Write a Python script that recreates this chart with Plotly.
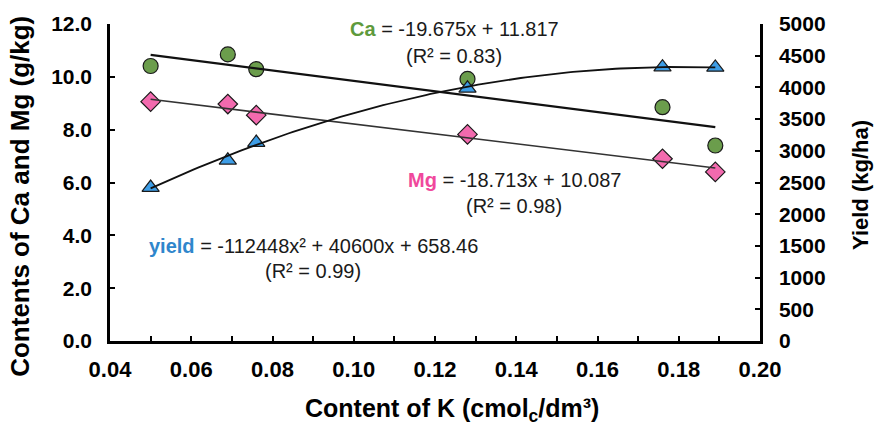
import numpy as np
import plotly.graph_objects as go

# ---- data ----
k_content = [0.050, 0.069, 0.076, 0.128, 0.176, 0.189]
ca_values = [10.41, 10.85, 10.29, 9.92, 8.85, 7.40]
mg_values = [9.06, 8.97, 8.55, 7.82, 6.90, 6.40]
yield_values = [2420, 2850, 3130, 3985, 4320, 4315]

# trendline coefficients as printed on the chart (highest power first)
ca_fit = [-19.675, 11.817]
mg_fit = [-18.713, 10.087]
yield_fit = [-112448, 40600, 658.46]

x_ticks = [0.04, 0.06, 0.08, 0.10, 0.12, 0.14, 0.16, 0.18, 0.20]
y_ticks = [0, 2, 4, 6, 8, 10, 12]
y2_ticks = list(range(0, 5001, 500))

GREEN = "#6b9d4c"
PINK = "#f26aae"
BLUE = "#3d9de6"
FONT = "Liberation Sans, Arial, sans-serif"

xs = np.linspace(min(k_content), max(k_content), 120)

fig = go.Figure()

fig.add_trace(go.Scatter(x=k_content, y=ca_values, mode="markers",
                         marker=dict(symbol="circle", size=15, color=GREEN,
                                     line=dict(color="#1a1a1a", width=1.2)),
                         showlegend=False))
fig.add_trace(go.Scatter(x=k_content, y=mg_values, mode="markers",
                         marker=dict(symbol="diamond", size=15, color=PINK,
                                     line=dict(color="#1a1a1a", width=1.2)),
                         showlegend=False))
fig.add_trace(go.Scatter(x=k_content, y=yield_values, mode="markers", yaxis="y2",
                         marker=dict(symbol="triangle-up", size=15, color=BLUE,
                                     line=dict(color="#1a1a1a", width=1.2)),
                         showlegend=False))

fig.add_trace(go.Scatter(x=xs, y=np.polyval(ca_fit, xs), mode="lines",
                         line=dict(color="#111111", width=2.3), showlegend=False))
fig.add_trace(go.Scatter(x=xs, y=np.polyval(mg_fit, xs), mode="lines",
                         line=dict(color="#333333", width=1.6), showlegend=False))
fig.add_trace(go.Scatter(x=xs, y=np.polyval(yield_fit, xs), mode="lines", yaxis="y2",
                         line=dict(color="#111111", width=1.8), showlegend=False))

PL, PR, PT, PB = 110, 760, 20, 341


def px(xp):
    return (xp - PL) / (PR - PL)


def py(yp):
    return (PB - yp) / (PB - PT)


annos = [
    (454, 25, f"<b><span style='color:#5e9a3c'>Ca</span></b> = {ca_fit[0]}x + {ca_fit[1]}"),
    (454, 52, "(R² = 0.83)"),
    (514, 178, f"<b><span style='color:#f0489c'>Mg</span></b> = {mg_fit[0]}x + {mg_fit[1]}"),
    (514, 204, "(R² = 0.98)"),
    (313, 245, f"<b><span style='color:#2f86cc'>yield</span></b> = {yield_fit[0]}x² + {yield_fit[1]}x + {yield_fit[2]}"),
    (313, 270, "(R² = 0.99)"),
]
annotations = [dict(x=px(a), y=py(b), xref="paper", yref="paper", text=t,
                    showarrow=False, xanchor="center", yanchor="middle",
                    font=dict(size=20, color="#1a1a1a", family=FONT))
               for a, b, t in annos]

# axis titles placed as annotations for exact positioning
annotations += [
    dict(x=px(452), y=py(411), xref="paper", yref="paper", showarrow=False,
         text="<b>Content of K (cmol<sub>c</sub>/dm³)</b>", xanchor="center", yanchor="middle",
         font=dict(size=25, family=FONT, color="black")),
    dict(x=px(20), y=py(195), xref="paper", yref="paper", showarrow=False, textangle=-90,
         text="<b>Contents of Ca and Mg (g/kg)</b>", xanchor="center", yanchor="middle",
         font=dict(size=26, family=FONT, color="black")),
    dict(x=px(861), y=py(183), xref="paper", yref="paper", showarrow=False, textangle=-90,
         text="<b>Yield (kg/ha)</b>", xanchor="center", yanchor="middle",
         font=dict(size=22, family=FONT, color="black")),
]

axis_common = dict(showline=True, linecolor="black", linewidth=2.5, ticks="inside",
                   ticklen=5, tickwidth=2, tickcolor="black", showgrid=False,
                   zeroline=False)

fig.update_layout(
    width=875, height=432,
    margin=dict(l=PL, r=875 - PR, t=PT, b=432 - PB),
    plot_bgcolor="white", paper_bgcolor="white",
    font=dict(family=FONT, color="black"),
    xaxis=dict(range=[0.04, 0.20], tickvals=x_ticks,
               ticktext=[f"<b>{v:.2f}</b>" for v in x_ticks], ticklabelstandoff=7,
               tickfont=dict(size=22, family=FONT, color="black"),
               minor=dict(dtick=0.01, tick0=0.04, ticks="inside", ticklen=5,
                          tickwidth=2, tickcolor="black"),
               **axis_common),
    yaxis=dict(range=[0, 12], tickvals=y_ticks,
               ticktext=[f"<b>{v:.1f}</b>" for v in y_ticks], ticklabelstandoff=11,
               tickfont=dict(size=21, family=FONT, color="black"),
               **axis_common),
    yaxis2=dict(range=[0, 5000], overlaying="y", side="right",
                tickvals=y2_ticks, ticktext=[f"<b>{v}</b>" for v in y2_ticks],
                ticklabelstandoff=12,
                tickfont=dict(size=21, family=FONT, color="black"),
                **axis_common),
    annotations=annotations,
)

fig.write_html("out.html")
